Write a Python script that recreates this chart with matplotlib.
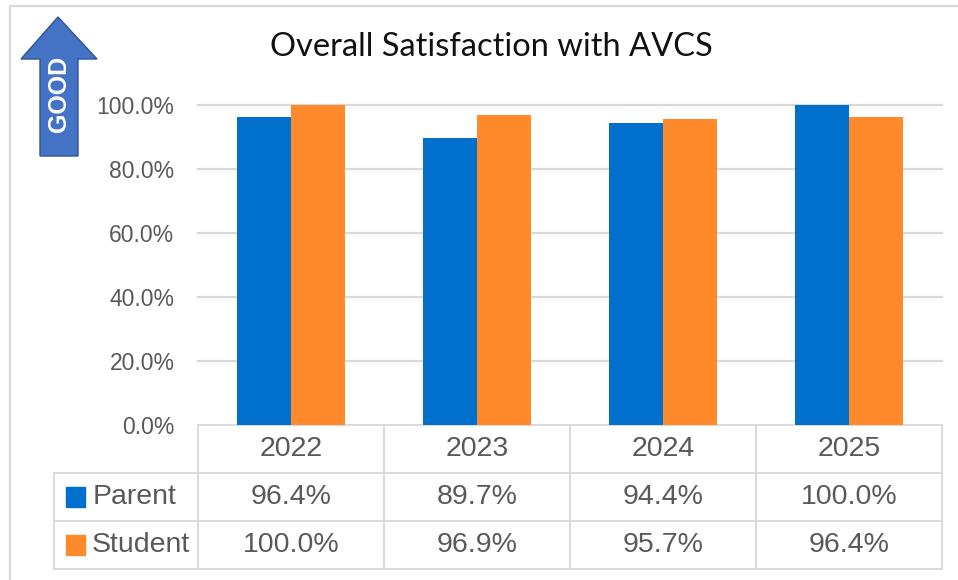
import matplotlib
matplotlib.use('Agg')
import matplotlib.pyplot as plt
from matplotlib.patches import Polygon, Rectangle
from matplotlib.lines import Line2D

years = ['2022', '2023', '2024', '2025']
parent = [96.4, 89.7, 94.4, 100.0]
student = [100.0, 96.9, 95.7, 96.4]
series_names = ['Parent', 'Student']
yticks = [0, 20, 40, 60, 80, 100]

blue = '#0070CC'
orange = '#FF8A2B'
grid_col = '#D9D9D9'
text_col = '#595959'

W, H = 958, 580
fig = plt.figure(figsize=(W / 100, H / 100), dpi=100)


def fx(x):
    return x / W


def fy(y):
    return 1 - y / H


# outer chart border
fig.add_artist(Rectangle((fx(10), -0.1), 1.2, fy(6) + 0.1, transform=fig.transFigure,
                         fill=False, ec=grid_col, lw=1.6))

ax = fig.add_axes([fx(198), fy(425), fx(942) - fx(198), fy(105) - fy(425)])
x = list(range(len(years)))
bw = 0.293
ax.bar([i - bw / 2 for i in x], parent, width=bw, color=blue, zorder=3)
ax.bar([i + bw / 2 for i in x], student, width=bw, color=orange, zorder=3)
ax.set_xlim(-0.5, 3.5)
ax.set_ylim(0, 100)
ax.set_yticks(yticks)
ax.set_yticklabels(['%.1f%%' % v for v in yticks], family='Liberation Sans',
                   fontsize=16.5, color=text_col)
ax.tick_params(axis='y', length=0, pad=17)
ax.set_xticks([])
for s in ax.spines.values():
    s.set_visible(False)
for v in yticks[1:]:
    ax.axhline(v, color=grid_col, lw=1.6, zorder=1, clip_on=False)

# data table below the plot
rh = 48 / 320
left = (54 - 198) / 186 - 0.5
tr = ax.get_xaxis_transform()
lkw = dict(color=grid_col, lw=1.4, transform=tr, clip_on=False)
ax.add_line(Line2D([-0.5, 3.5], [0, 0], **lkw))
for r in range(1, 4):
    ax.add_line(Line2D([left, 3.5], [-r * rh, -r * rh], **lkw))
for c in [-0.5, 0.5, 1.5, 2.5, 3.5]:
    ax.add_line(Line2D([c, c], [0, -3 * rh], **lkw))
ax.add_line(Line2D([left, left], [-rh, -3 * rh], **lkw))

tkw = dict(transform=tr, ha='center', va='center', family='Liberation Sans',
           fontsize=20.5, color=text_col, clip_on=False)
for i, yr in enumerate(years):
    ax.text(i, -0.5 * rh, yr, **tkw)
    ax.text(i, -1.5 * rh, '%.1f%%' % parent[i], **tkw)
    ax.text(i, -2.5 * rh, '%.1f%%' % student[i], **tkw)

for r, (name, col) in enumerate(zip(series_names, [blue, orange])):
    yc = -(1.5 + r) * rh
    ax.add_patch(Rectangle((left + 0.065, yc - 0.031), 0.1, 0.062, transform=tr,
                           color=col, clip_on=False))
    ax.text(left + 0.205, yc, name, transform=tr, ha='left', va='center',
            family='Liberation Sans', fontsize=20.5, color=text_col, clip_on=False)

# title
fig.text(fx(491), fy(47), 'Overall Satisfaction with AVCS', ha='center', va='center',
         family='Lato', fontsize=23.5, color='#111111')

# "GOOD" arrow
pts = [(40, 156), (78, 156), (78, 59), (97, 59), (58, 17), (21, 59), (40, 59)]
fig.add_artist(Polygon([(fx(a), fy(b)) for a, b in pts], closed=True,
                       transform=fig.transFigure, fc='#4472C4', ec='#2F5597', lw=1))
fig.text(fx(59), fy(94), 'GOOD', rotation=90, ha='center', va='center',
         family='Liberation Sans', fontweight='bold', fontsize=18, color='white')

fig.savefig('out.png', dpi=100)
